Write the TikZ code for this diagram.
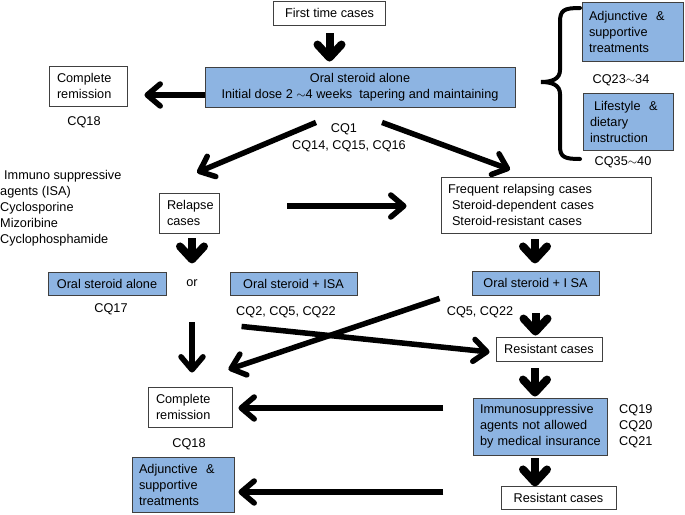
\documentclass[tikz,border=0pt]{standalone}
\usepackage{fontspec}
\setmainfont{Liberation Sans}
\usetikzlibrary{arrows.meta,calc}
\definecolor{boxblue}{HTML}{8DB4E2}
\definecolor{boxline}{HTML}{404040}
\begin{document}
\begin{tikzpicture}[x=1pt,y=-1pt,
 every node/.style={font=\fontsize{12.7}{16}\selectfont, inner sep=0pt},
 box/.style={draw=boxline, line width=0.9pt, fill=white},
 bbox/.style={draw=boxline, line width=0.9pt, fill=boxblue},
 sz/.style 2 args={minimum width=#1, minimum height=#2},
 lt/.style={text width=#1, align=left},
 thickarr/.style={line width=5.5pt, -{Straight Barb[round,length=13pt,width=22pt]}},
 fatarr/.style={line width=8pt, -{Straight Barb[round,length=13pt,width=24pt]}},
]
\useasboundingbox (0,0) rectangle (685,514);

% nodes
\node[box, sz={112}{24}] (first) at (329.5,13) {First time cases};
\node[bbox, sz={310}{40}, align=center] (oral) at (360,87) {Oral steroid alone\\Initial dose 2 $\sim$4 weeks\ \ tapering and maintaining};
\node[box, sz={78}{40}, lt=62, inner xsep=8] (cr1) at (88,86) {\mbox{Complete}\\\mbox{remission}};
\node (cq18a) at (84,122) {CQ18};
\node (cq1) at (344,129) {CQ1};
\node (cq141516) at (349,146) {CQ14, CQ15, CQ16};
\node[bbox, sz={101}{59}, lt=87, inner xsep=7] (adj1) at (632.5,31.5) {\mbox{Adjunctive\ \ \&}\\\mbox{supportive}\\\mbox{treatments}};
\node (cq2334) at (621,80) {CQ23$\sim$34};
\node[bbox, sz={90}{57}, lt=76, inner xsep=7] (life) at (628,121.5) {\mbox{\hspace{4pt}Lifestyle\ \ \&}\\\mbox{dietary}\\\mbox{instruction}};
\node (cq3540) at (623,162) {CQ35$\sim$40};
\node[anchor=north west, align=left] (isa) at (0,170) {\hspace{4pt}Immuno suppressive\\agents (ISA)\\Cyclosporine\\Mizoribine\\Cyclophosphamide};
\node[box, sz={60}{40}, lt=44, inner xsep=8] (rel) at (189,213) {\mbox{Relapse}\\\mbox{cases}};
\node[box, sz={210}{56}, lt=196, inner xsep=7] (freq) at (546,205) {\mbox{Frequent relapsing cases}\\\mbox{\hspace{4pt}Steroid-dependent cases}\\\mbox{\hspace{4pt}Steroid-resistant cases}};
\node[bbox, sz={118}{23}] (osa) at (107,283.5) {Oral steroid alone};
\node (or) at (192,283) {or};
\node[bbox, sz={127}{23}] (osisa) at (293.5,283.5) {Oral steroid + ISA};
\node[bbox, sz={127}{24}] (osisa2) at (535.5,283) {Oral steroid + I SA};
\node (cq17) at (111,309) {CQ17};
\node (cq2522) at (286,312) {CQ2, CQ5, CQ22};
\node (cq522) at (480,312) {CQ5, CQ22};
\node[box, sz={106}{24}] (res1) at (549,349) {Resistant cases};
\node[box, sz={84}{40}, lt=68, inner xsep=8] (cr2) at (190,407) {\mbox{Complete}\\\mbox{remission}};
\node (cq18b) at (189,444) {CQ18};
\node[bbox, sz={102}{55}, lt=88, inner xsep=7] (adj2) at (183,484.5) {\mbox{Adjunctive\ \ \&}\\\mbox{supportive}\\\mbox{treatments}};
\node[bbox, sz={134}{57}, lt=120, inner xsep=7] (immu) at (540,426.5) {\mbox{Immunosuppressive}\\\mbox{agents not allowed}\\\mbox{by medical insurance}};
\node[anchor=west, align=left] (cq1921) at (619,426) {CQ19\\CQ20\\CQ21};
\node[box, sz={115}{23}] (res2) at (558.5,497.5) {Resistant cases};

% brace
\draw[line width=4pt, line cap=round] (580,8) .. controls (564,8) and (560,10) .. (560,22) -- (560,70)
  .. controls (560,79) and (552,82) .. (541,82) .. controls (552,82) and (560,85) .. (560,94)
  -- (560,146) .. controls (560,157) and (564,159) .. (580,159);

% arrows
\draw[fatarr] ($(first.south)+(0,8)$) -- ($(first.south |- oral.north)+(0,-5)$);
\draw[thickarr] ($(oral.west)+(0,8)$) -- ($(cr1.east |- oral.west)+(17,8)$);
\draw[thickarr] ($(oral.south)+(-44,15)$) -- ($(rel.north)+(8,-20)$);
\draw[thickarr] ($(oral.south)+(22,15)$) -- ($(freq.north)+(-36,-7)$);
\draw[thickarr] ($(rel.east)+(68,-7)$) -- ($(freq.west)+(-34,1)$);
\draw[fatarr] ($(rel.south)+(3,5)$) -- ($(rel.south)+(3,30)$);
\draw[fatarr] ($(freq.south)+(-11,6)$) -- ($(freq.south)+(-11,30)$);
\draw[fatarr] ($(osisa2.south)+(0,18)$) -- ($(res1.north -| osisa2.south)+(0,-1)$);
\draw[thickarr] ($(or)+(0,39)$) -- ($(cr2.north)+(2,-14)$);
\draw[thickarr] ($(osisa2.south west)+(-32,3)$) -- ($(cr2.north east)+(-4,-17)$);
\draw[thickarr] ($(osisa.south west)+(12,31)$) -- ($(res1.west)+(-6,3)$);
\draw[fatarr] ($(res1.south)+(-14,7)$) -- ($(immu.north)+(-5,-1)$);
\draw[fatarr] ($(immu.south)+(-5,3)$) -- ($(immu.south)+(-5,31)$);
\draw[thickarr] ($(cr2.east)+(211,1)$) -- ($(cr2.east)+(6,1)$);
\draw[thickarr] ($(adj2.east)+(209,7.5)$) -- ($(adj2.east)+(4,7.5)$);
\end{tikzpicture}
\end{document}
